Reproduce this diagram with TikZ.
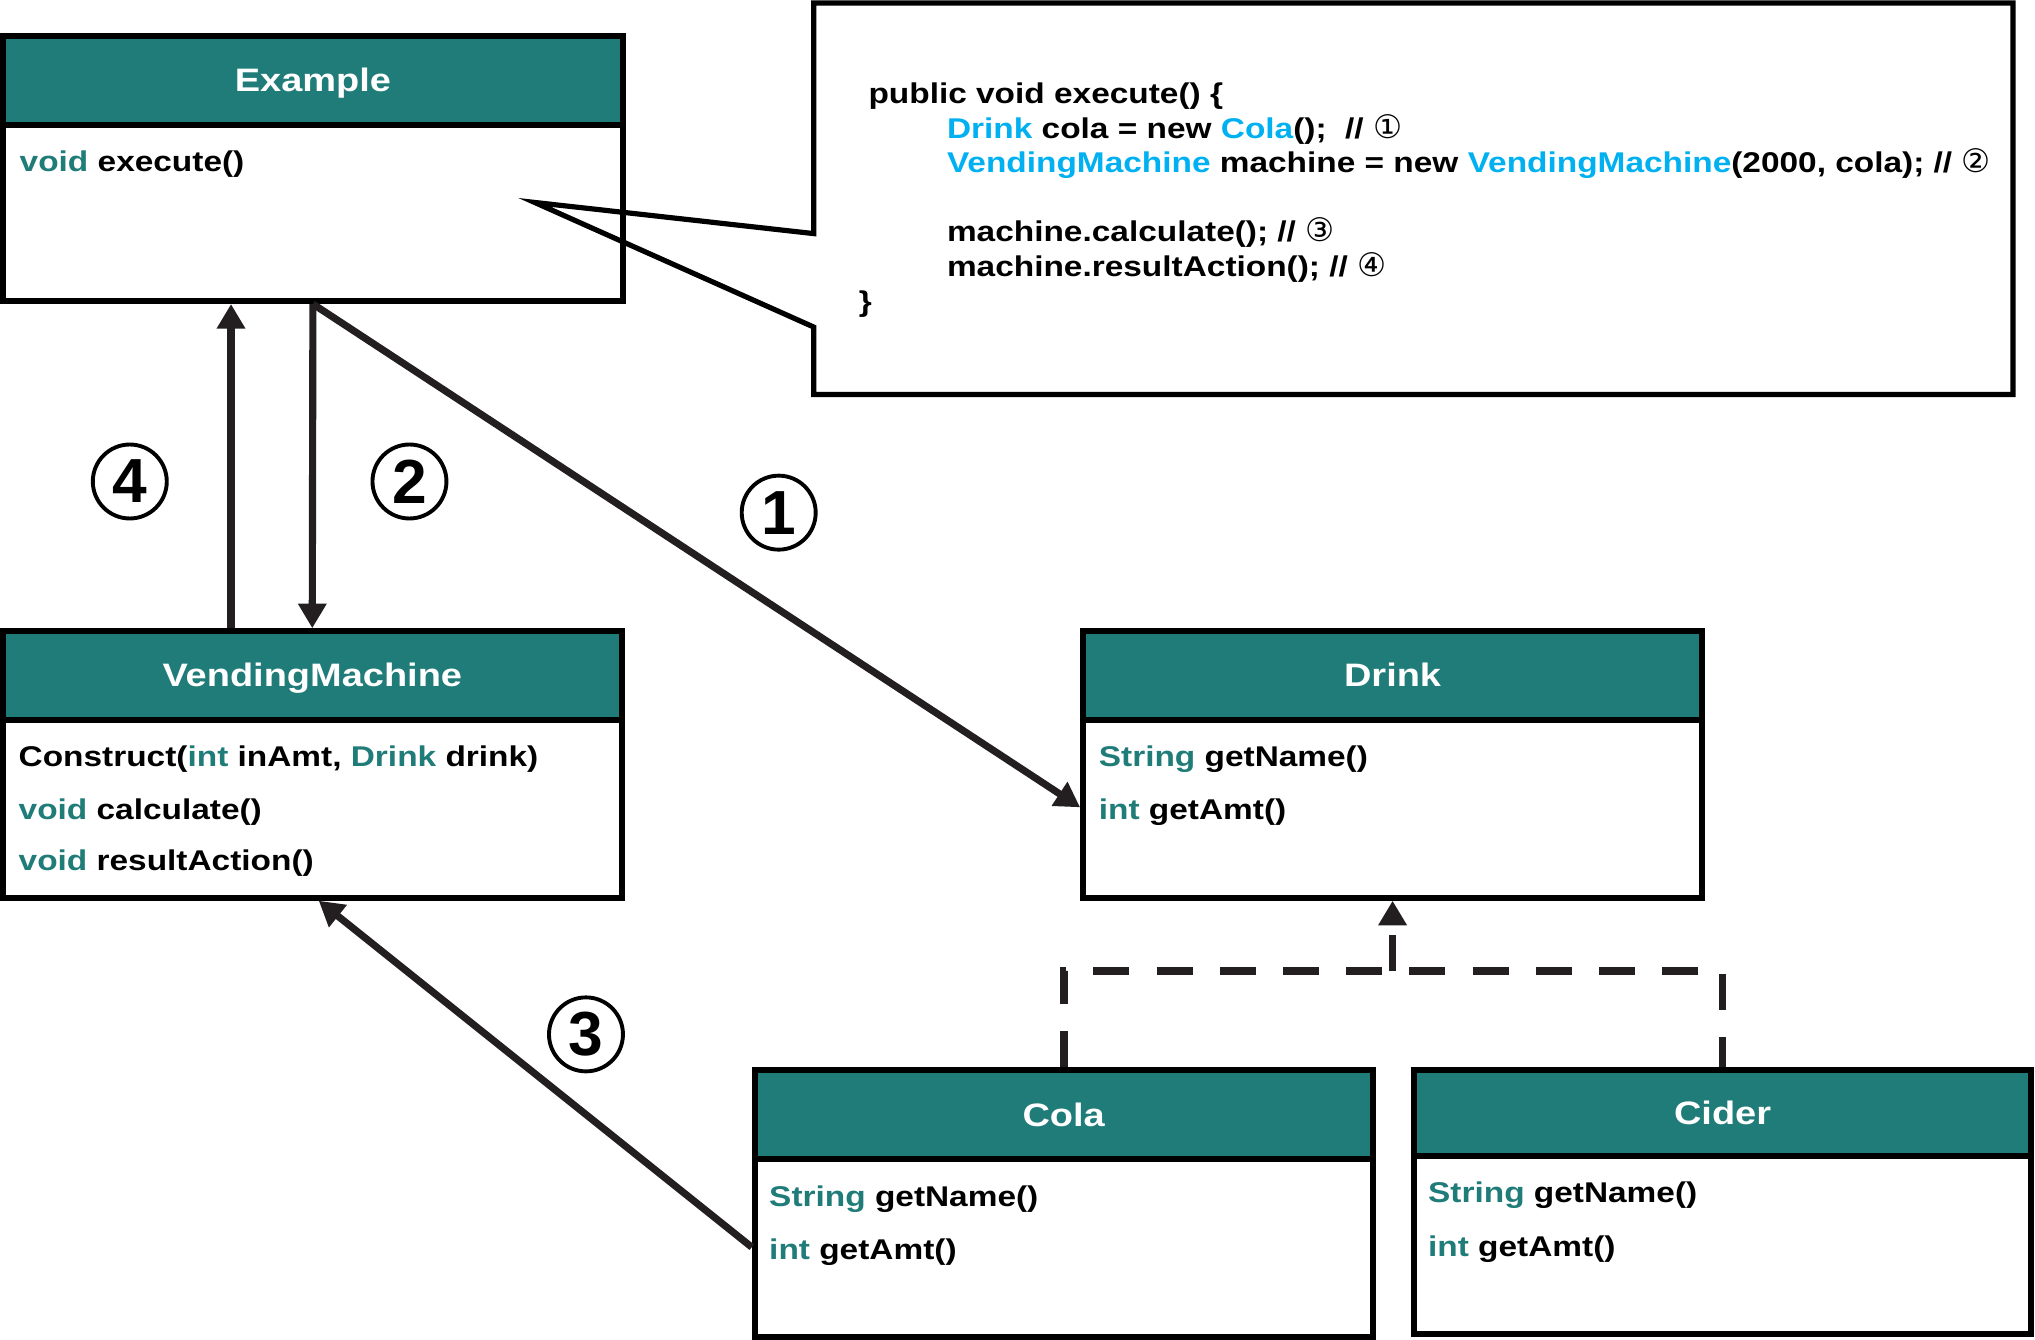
\documentclass[tikz,border=0pt]{standalone}
\usepackage{fontspec}
\newfontfamily\umlfont[FakeStretch=1.17]{Liberation Sans}
\newfontfamily\numfont{Liberation Sans}
\newfontfamily\dvfont{DejaVu Sans}
\usetikzlibrary{arrows.meta,calc}
\definecolor{umlteal}{HTML}{207C78}
\definecolor{codeblue}{HTML}{00B0F0}
\definecolor{arrowc}{HTML}{231F20}
\newcommand\umlkw[1]{\textcolor{umlteal}{#1}}
\newcommand\cbl[1]{\textcolor{codeblue}{#1}}
\newcommand\cnum[1]{{\dvfont\mdseries\fontsize{25}{25}\selectfont #1}}
\tikzset{
  classbox/.style={draw=black, line width=4.5pt, fill=white, rectangle, inner sep=0pt,
    path picture={
      \fill[umlteal] (path picture bounding box.north west) rectangle ([yshift=-#1]path picture bounding box.north east);
      \draw[black, line width=4.5pt] ([yshift=-#1]path picture bounding box.north west) -- ([yshift=-#1]path picture bounding box.north east);
    }},
  classbox/.default=68.3pt,
  ctitle/.style={font=\umlfont\bfseries\fontsize{25}{30}\selectfont, text=white, anchor=base, inner sep=0pt},
  mline/.style={font=\umlfont\bfseries\fontsize{22}{26}\selectfont, anchor=base west, inner sep=0pt},
  codeline/.style={font=\umlfont\bfseries\fontsize{22}{26}\selectfont, anchor=base west, inner sep=0pt},
  numcirc/.style={draw=black, circle, line width=3pt, minimum size=57pt, inner sep=0pt,
    font=\numfont\bfseries\fontsize{48}{48}\selectfont},
  arr/.style={draw=arrowc, line width=5.5pt, -{Triangle[length=19pt,width=21pt]}},
  dashl/.style={draw=arrowc, line width=6pt, dash pattern=on 27.7pt off 21pt},
}
\begin{document}
\begin{tikzpicture}[x=1pt, y=-1pt]
\useasboundingbox (0,0) rectangle (1568,1032);

% class boxes
\node[classbox, minimum width=477.8pt, minimum height=204pt] (ex) at (241.1,130) {};
\node[classbox, minimum width=476.8pt, minimum height=205.5pt] (vm) at (240.6,589.05) {};
\node[classbox, minimum width=477pt, minimum height=205.5pt] (drink) at (1073,589.05) {};
\node[classbox, minimum width=476.1pt, minimum height=205.3pt] (cola) at (819.55,927.35) {};
\node[classbox=66.3pt, minimum width=475.5pt, minimum height=203.3pt] (cider) at (1327.25,926.35) {};

% titles
\node[ctitle] (exT) at (241.1,70.6) {Example};
\node[ctitle] (vmT) at (240.6,529.3) {VendingMachine};
\node[ctitle] (drinkT) at (1073,529.3) {Drink};
\node[ctitle] (colaT) at (819.55,867.6) {Cola};
\node[ctitle] (ciderT) at (1327.25,866.8) {Cider};

% members
\node[mline] (ex1) at (15,132.3) {\umlkw{void} execute()};
\node[mline] (vm1) at (14.2,590.7) {Construct(\umlkw{int} inAmt, \umlkw{Drink} drink)};
\node[mline] (vm2) at (14.2,631.8) {\umlkw{void} calculate()};
\node[mline] (vm3) at (14.2,670.9) {\umlkw{void} resultAction()};
\node[mline] (dr1) at (846.5,590.7) {\umlkw{String} getName()};
\node[mline] (dr2) at (846.5,631.8) {\umlkw{int} getAmt()};
\node[mline] (co1) at (592.5,929.3) {\umlkw{String} getName()};
\node[mline] (co2) at (592.5,970.3) {\umlkw{int} getAmt()};
\node[mline] (ci1) at (1100.2,926.7) {\umlkw{String} getName()};
\node[mline] (ci2) at (1100.2,967.8) {\umlkw{int} getAmt()};

% callout with code
\draw[black, line width=4pt, line join=miter] (627,180) -- (412,156) -- (627,252) -- (627,304) -- (1551,304) -- (1551,2.3) -- (627,2.3) -- cycle;
\node[codeline] (c1) at (669,80) {public void execute() \{};
\node[codeline] (c2) at (729.5,106.5) {\cbl{Drink} cola = new \cbl{Cola}();\ \ // \cnum{①}};
\node[codeline] (c3) at (729.5,133) {\cbl{VendingMachine} machine = new \cbl{VendingMachine}(2000, cola); // \cnum{②}};
\node[codeline] (c4) at (729.5,186) {machine.calculate(); // \cnum{③}};
\node[codeline] (c5) at (729.5,213) {machine.resultAction(); // \cnum{④}};
\node[codeline] (c6) at (661.5,240) {\}};

% connectors
\draw[arr] ([xshift=-62.6pt]vm.north) -- ([xshift=-63.1pt]ex.south);
\draw[arr] (ex.south) -- (vm.north);
\draw[arr] (ex.south) -- ([yshift=-33pt]drink.west);
\draw[arr] ([yshift=-33.6pt]cola.west) -- ([xshift=5pt]vm.south);

\coordinate (join) at (1073,748);
\draw[dashl] (cola.north) -- (cola.north |- join) -| (cider.north);
\draw[dashl, -{Triangle[length=19pt,width=21pt]}] (join) -- (drink.south);

% step numbers
\node[numcirc] (n4) at (100,371) {4};
\node[numcirc] (n2) at (315.5,371) {2};
\node[numcirc] (n1) at (600,395) {1};
\node[numcirc] (n3) at (451.5,797) {3};
\end{tikzpicture}
\end{document}
